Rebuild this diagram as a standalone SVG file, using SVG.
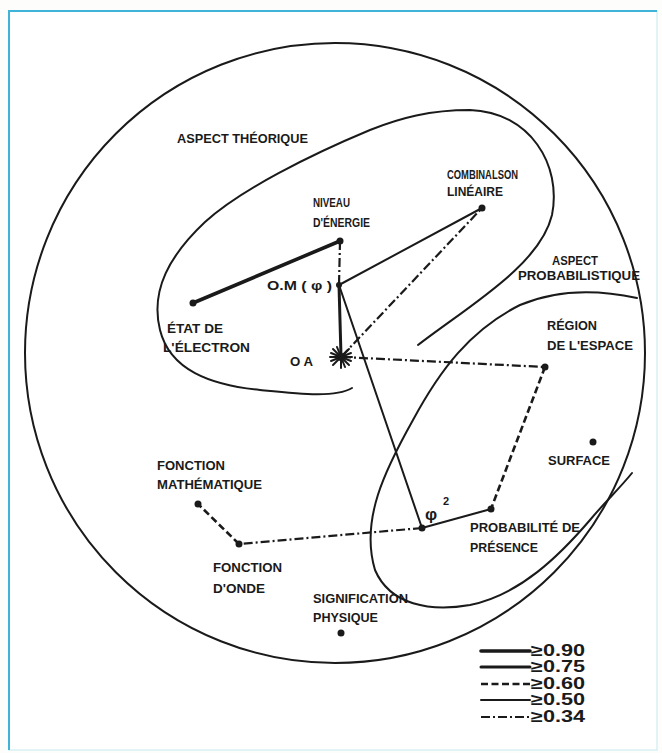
<svg xmlns="http://www.w3.org/2000/svg" width="662" height="753" viewBox="0 0 662 753">
  <style>
    .lbl { font-family: "Liberation Sans", Arial, sans-serif; font-weight: bold; font-size: 12.5px; fill: #1a1a1a; }
    .leg { font-family: "Liberation Sans", Arial, sans-serif; font-weight: bold; font-size: 16px; fill: #1a1a1a; }
    .region { fill: none; stroke: #1a1a1a; stroke-width: 2; stroke-linecap: round; }
    .dot { fill: #1a1a1a; }
    .w90 { stroke: #1a1a1a; stroke-width: 3.6; fill: none; stroke-linecap: round; }
    .w75 { stroke: #1a1a1a; stroke-width: 3; fill: none; stroke-linecap: round; }
    .w60 { stroke: #1a1a1a; stroke-width: 2.6; fill: none; stroke-dasharray: 7 3.5; }
    .w50 { stroke: #1a1a1a; stroke-width: 2; fill: none; stroke-linecap: round; }
    .w34 { stroke: #1a1a1a; stroke-width: 2.2; fill: none; stroke-dasharray: 9 3 2 3; }
  </style>

  <!-- page and frame -->
  <rect x="0" y="0" width="662" height="753" fill="#fdfdfb"/>
  <rect x="9" y="11" width="648" height="739" fill="#ffffff" stroke="#d8f0f2" stroke-width="1.5"/>
  <path d="M9 750 V11 H657" fill="none" stroke="#3fb4d8" stroke-width="2"/>

  <!-- outline regions -->
  <g id="regions">
    <circle class="region" cx="335" cy="353" r="310"/>
    <path id="aspect-theorique" class="region" d="M418 345 C470 305 540 265 552 215 C562 165 530 112 470 110 C430 110 400 118 370 130 C310 155 240 190 205 222 C170 255 150 290 160 330 C170 370 210 385 260 390 C300 394 335 398 352 388"/>
    <path id="aspect-probabiliste" class="region" d="M637 298 C600 290 560 288 520 305 C470 330 440 370 413 420 C385 470 360 520 375 570 C390 605 430 612 470 605 C520 595 560 555 590 520 C605 502 620 488 632 473"/>
  </g>

  <!-- connectors -->
  <g id="connectors">
    <line class="w90" x1="193" y1="303" x2="340" y2="241"/>
    <line class="w75" x1="339" y1="285" x2="341" y2="356"/>
    <line class="w50" x1="339" y1="285" x2="482" y2="208"/>
    <line class="w50" x1="339" y1="285" x2="422" y2="528"/>
    <line class="w50" x1="422" y1="528" x2="491" y2="509"/>
    <line class="w34" x1="340" y1="241" x2="339" y2="285"/>
    <line class="w34" x1="342" y1="356" x2="482" y2="208"/>
    <line class="w34" x1="342" y1="357" x2="545" y2="367"/>
    <line class="w34" x1="422" y1="528" x2="239" y2="544"/>
    <line class="w60" x1="545" y1="367" x2="491" y2="509"/>
    <line class="w60" x1="239" y1="544" x2="198" y2="504"/>
  </g>

  <!-- nodes -->
  <g id="n-niveau">
    <circle class="dot" cx="340" cy="241" r="3.5"/>
    <text class="lbl" x="313" y="207" textLength="37" lengthAdjust="spacingAndGlyphs">NIVEAU</text>
    <text class="lbl" x="313" y="227" textLength="57" lengthAdjust="spacingAndGlyphs">D'ÉNERGIE</text>
  </g>
  <g id="n-combinaison">
    <circle class="dot" cx="482" cy="208" r="3.5"/>
    <text class="lbl" x="447" y="179" textLength="71" lengthAdjust="spacingAndGlyphs">COMBINALSON</text>
    <text class="lbl" x="447" y="196" textLength="56" lengthAdjust="spacingAndGlyphs">LINÉAIRE</text>
  </g>
  <g id="n-om">
    <circle class="dot" cx="339" cy="285" r="3"/>
    <text class="lbl" x="267" y="290" textLength="65" lengthAdjust="spacingAndGlyphs">O.M ( φ )</text>
  </g>
  <g id="n-etat">
    <circle class="dot" cx="193" cy="303" r="3.5"/>
    <text class="lbl" x="167" y="333" textLength="56" lengthAdjust="spacingAndGlyphs">ÉTAT DE</text>
    <text class="lbl" x="163" y="352" textLength="87" lengthAdjust="spacingAndGlyphs">L'ÉLECTRON</text>
  </g>
  <g id="n-oa">
    <g stroke="#1a1a1a" stroke-width="2" stroke-linecap="round">
      <line x1="341" y1="346" x2="341" y2="368"/>
      <line x1="330" y1="357" x2="352" y2="357"/>
      <line x1="333" y1="349" x2="349" y2="365"/>
      <line x1="333" y1="365" x2="349" y2="349"/>
      <line x1="337" y1="347" x2="345" y2="367"/>
      <line x1="331" y1="353" x2="351" y2="361"/>
      <line x1="331" y1="361" x2="351" y2="353"/>
    </g>
    <circle class="dot" cx="341" cy="357" r="4"/>
    <text class="lbl" x="290" y="366" textLength="23" lengthAdjust="spacingAndGlyphs">O A</text>
  </g>
  <g id="n-region">
    <circle class="dot" cx="545" cy="367" r="3.5"/>
    <text class="lbl" x="547" y="330" textLength="50" lengthAdjust="spacingAndGlyphs">RÉGION</text>
    <text class="lbl" x="547" y="350" textLength="86" lengthAdjust="spacingAndGlyphs">DE L'ESPACE</text>
  </g>
  <g id="n-surface">
    <circle class="dot" cx="593" cy="442" r="3.5"/>
    <text class="lbl" x="548" y="465" textLength="62" lengthAdjust="spacingAndGlyphs">SURFACE</text>
  </g>
  <g id="n-fmath">
    <circle class="dot" cx="198" cy="504" r="3.5"/>
    <text class="lbl" x="157" y="470" textLength="68" lengthAdjust="spacingAndGlyphs">FONCTION</text>
    <text class="lbl" x="157" y="489" textLength="105" lengthAdjust="spacingAndGlyphs">MATHÉMATIQUE</text>
  </g>
  <g id="n-fonde">
    <circle class="dot" cx="239" cy="544" r="3.5"/>
    <text class="lbl" x="213" y="572" textLength="69" lengthAdjust="spacingAndGlyphs">FONCTION</text>
    <text class="lbl" x="213" y="593" textLength="52" lengthAdjust="spacingAndGlyphs">D'ONDE</text>
  </g>
  <g id="n-phi2">
    <circle class="dot" cx="422" cy="528" r="3.5"/>
    <text class="lbl" x="425" y="520" style="font-size:17px">φ</text>
    <text class="lbl" x="443" y="505" style="font-size:11px">2</text>
  </g>
  <g id="n-probabilite">
    <circle class="dot" cx="491" cy="509" r="3.5"/>
    <text class="lbl" x="470" y="532" textLength="110" lengthAdjust="spacingAndGlyphs">PROBABILITÉ DE</text>
    <text class="lbl" x="470" y="552" textLength="68" lengthAdjust="spacingAndGlyphs">PRÉSENCE</text>
  </g>
  <g id="n-signification">
    <circle class="dot" cx="341" cy="633" r="3.5"/>
    <text class="lbl" x="313" y="603" textLength="95" lengthAdjust="spacingAndGlyphs">SIGNIFICATION</text>
    <text class="lbl" x="313" y="622" textLength="65" lengthAdjust="spacingAndGlyphs">PHYSIQUE</text>
  </g>

  <!-- region captions -->
  <g id="captions">
    <text class="lbl" x="177" y="143" textLength="131" lengthAdjust="spacingAndGlyphs">ASPECT THÉORIQUE</text>
    <text class="lbl" x="552" y="265" textLength="46" lengthAdjust="spacingAndGlyphs">ASPECT</text>
    <text class="lbl" x="518" y="280" textLength="122" lengthAdjust="spacingAndGlyphs">PROBABILISTIQUE</text>
  </g>

  <!-- legend -->
  <g id="legend">
    <line class="w90" x1="481" y1="651" x2="530" y2="651"/>
    <line class="w75" x1="481" y1="667" x2="530" y2="667"/>
    <line class="w60" x1="481" y1="684" x2="530" y2="684"/>
    <line class="w50" x1="481" y1="700" x2="530" y2="700"/>
    <line class="w34" x1="481" y1="717" x2="530" y2="717"/>
    <text class="leg" x="531" y="656" textLength="54" lengthAdjust="spacingAndGlyphs">≥0.90</text>
    <text class="leg" x="531" y="672" textLength="54" lengthAdjust="spacingAndGlyphs">≥0.75</text>
    <text class="leg" x="531" y="689" textLength="54" lengthAdjust="spacingAndGlyphs">≥0.60</text>
    <text class="leg" x="531" y="705" textLength="54" lengthAdjust="spacingAndGlyphs">≥0.50</text>
    <text class="leg" x="531" y="722" textLength="54" lengthAdjust="spacingAndGlyphs">≥0.34</text>
  </g>
</svg>
